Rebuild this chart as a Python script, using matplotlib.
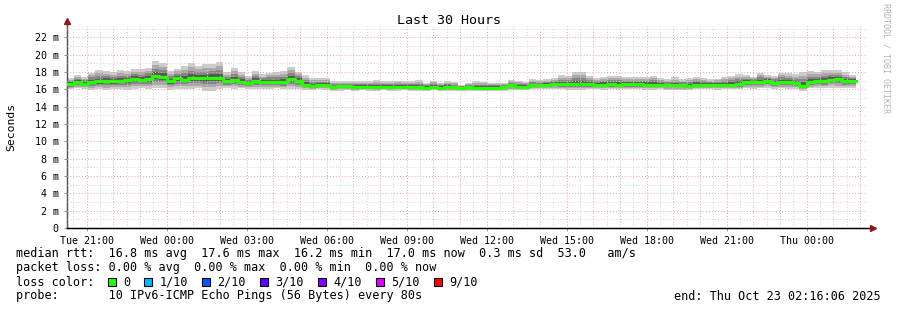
import datetime as dt
import matplotlib
matplotlib.use('Agg')
import matplotlib.pyplot as plt
import matplotlib.dates as mdates
from matplotlib.patches import Rectangle

# --- data (ms), one value per 16 min step ---
start = dt.datetime(2025, 10, 21, 20, 16, 6)
end = dt.datetime(2025, 10, 23, 2, 16, 6)
step_min = 16

median = [16.6, 16.8, 16.65, 16.85, 16.9, 16.95, 16.9, 16.95, 17.05, 17.2, 17.1, 17.2, 17.55, 17.4,
          16.9, 17.25, 17.1, 17.3, 17.25, 17.25, 17.3, 17.3, 16.9, 17.1, 16.85, 16.7, 17.0, 16.8,
          16.85, 16.8, 16.8, 17.15, 17.0, 16.55, 16.4, 16.45, 16.55, 16.25, 16.35, 16.4, 16.27, 16.27,
          16.31, 16.27, 16.27, 16.27, 16.31, 16.27, 16.27, 16.27, 16.2, 16.31, 16.2, 16.27, 16.22,
          16.2, 16.22, 16.2, 16.2, 16.2, 16.2, 16.22, 16.45, 16.3, 16.3, 16.45, 16.45, 16.5, 16.6,
          16.6, 16.6, 16.6, 16.6, 16.6, 16.55, 16.55, 16.6, 16.55, 16.6, 16.6, 16.6, 16.55, 16.55,
          16.55, 16.45, 16.45, 16.45, 16.4, 16.55, 16.55, 16.55, 16.55, 16.55, 16.55, 16.6, 16.85,
          16.85, 16.85, 17.0, 16.75, 16.85, 16.85, 16.75, 16.4, 16.85, 16.95, 16.9, 17.1, 17.15,
          16.9, 17.0]

ping_max = [17.31, 17.65, 17.46, 17.92, 18.19, 18.12, 18.0, 18.19, 18.12, 18.31, 18.31, 18.5, 19.27,
            19.08, 18.12, 18.38, 18.69, 19.0, 18.69, 18.88, 18.88, 19.15, 18.0, 18.46, 18.0, 17.54,
            18.12, 17.73, 17.92, 18.0, 18.12, 18.58, 18.04, 17.62, 17.31, 17.35, 17.27, 16.92, 16.92,
            16.92, 16.96, 16.92, 16.92, 17.08, 16.96, 16.92, 17.0, 16.92, 16.96, 17.08, 16.77, 17.0,
            16.77, 16.96, 16.85,
            16.46, 16.69, 16.92, 16.88, 16.77, 16.77, 16.69, 17.08, 17.0, 16.85, 17.23, 17.08, 17.15,
            17.31, 17.62, 17.54, 18.0, 18.0, 17.54, 17.35, 17.46, 17.54, 17.54, 17.46, 17.46, 17.46,
            17.46, 17.54, 17.31, 17.15, 17.38, 17.15, 17.31, 17.46, 17.31, 17.15, 17.23, 17.38, 17.54,
            17.77, 17.62, 17.46, 17.92, 17.62, 17.54, 17.92, 17.85, 17.73, 18.0, 18.12, 18.0, 18.23,
            18.23, 18.23, 18.0, 17.62]

ping_min = [16.0, 16.1, 16.05, 15.95, 16.0, 15.9, 16.0, 16.05, 15.95, 16.0, 16.1, 16.0, 16.15, 16.15,
            15.95, 16.0, 16.05, 16.0, 16.1, 15.85, 15.85, 16.0, 16.1, 16.05, 16.1, 16.05, 16.0, 16.05,
            16.05, 16.1, 16.0, 16.05, 16.0, 15.95, 15.9, 16.0, 15.95, 15.85, 15.85, 15.9, 15.85, 15.9,
            15.85, 15.85, 15.9, 15.85, 15.85, 15.9, 15.85, 15.85, 15.8, 15.9, 15.8, 15.85, 15.85,
            15.8, 15.85, 15.8, 15.85, 15.8, 15.8, 15.85, 15.95, 15.9, 15.9, 16.0, 16.0, 16.0, 16.05,
            16.0, 15.95, 15.9, 15.95, 16.0, 16.0, 15.95, 16.0, 16.0, 16.0, 16.0, 16.0, 15.95, 15.95,
            16.0, 15.95, 15.95, 15.95, 15.9, 16.0, 16.0, 16.0, 15.95, 16.0, 16.0, 16.0, 16.1, 16.05,
            16.1, 16.15, 16.05, 16.1, 16.05, 16.0, 15.85, 16.1, 16.15, 16.1, 16.2, 16.15, 16.1, 16.1]

loss_labels = ['0', '1/10', '2/10', '3/10', '4/10', '5/10', '9/10']
loss_colors = ['#26ff00', '#00b8ff', '#0059ff', '#5e00ff', '#7e00ff', '#dd00ff', '#ff0000']

# step times (extra point closes the last step)
times = [start + dt.timedelta(minutes=step_min * i) for i in range(len(median) + 1)]
med = median + [median[-1]]
hi = ping_max + [ping_max[-1]]
lo = ping_min + [ping_min[-1]]

W, H = 897, 310
mono = 'DejaVu Sans Mono'
fig = plt.figure(figsize=(W / 100, H / 100), dpi=100)
fx = lambda px: px / W
fy = lambda py: 1 - py / H

ax = fig.add_axes([fx(67), fy(228), fx(800), (228 - 26) / H])
ax.set_xlim(start, end)
ax.set_ylim(0, 23.3)

# smoke: nested bands around the median, darker towards the middle
shades = [(1.0, '#cccccc'), (0.72, '#a9a9a9'), (0.48, '#858585'), (0.26, '#575757')]
for frac, col in shades:
    top = [m + (h - m) * frac for m, h in zip(med, hi)]
    bot = [m - (m - l) * frac for m, l in zip(med, lo)]
    ax.fill_between(times, bot, top, step='post', color=col, lw=0, zorder=2)

ax.step(times, med, where='post', color='#26ff00', lw=2.3, zorder=4)

# grid: gray minor, red major
t = start.replace(minute=0, second=0) + dt.timedelta(minutes=30)
while t < end:
    if t > start:
        col = '#f0a0a0' if t.minute == 0 else '#d4d4d4'
        ax.axvline(t, color=col, lw=0.7, ls=(0, (1, 2)), zorder=3)
    t += dt.timedelta(minutes=30)
for v in range(1, 24):
    col = '#f0a0a0' if v % 2 == 0 else '#d4d4d4'
    ax.axhline(v, color=col, lw=0.7, ls=(0, (1, 2)), zorder=3)

# axes and ticks
for s in ['top', 'right']:
    ax.spines[s].set_visible(False)
ax.spines['left'].set_color('#555555')
ax.spines['bottom'].set_color('black')
ax.plot([0, 0], [0, 1.02], transform=ax.transAxes, color='#555555', lw=1, clip_on=False)
ax.plot([0, 1.006], [0, 0], transform=ax.transAxes, color='black', lw=1, clip_on=False)
ax.plot([0], [1.025], marker='^', ms=4, color='#8b1a1a', transform=ax.transAxes, clip_on=False)
ax.plot([1.008], [0], marker='>', ms=4, color='#8b1a1a', transform=ax.transAxes, clip_on=False)

ax.set_yticks(range(0, 23, 2))
ax.set_yticklabels(['0' if v == 0 else f'{v} m' for v in range(0, 23, 2)])
ax.xaxis.set_major_locator(mdates.HourLocator(byhour=range(0, 24, 3)))
ax.xaxis.set_major_formatter(mdates.DateFormatter('%a %H:%M'))
ax.tick_params(axis='both', length=2, width=0.6, color='#888888', labelsize=7.2, pad=4)
for lab in ax.get_xticklabels() + ax.get_yticklabels():
    lab.set_family(mono)

# titles and labels
fig.text(0.5, fy(20), 'Last 30 Hours', ha='center', va='center', family=mono, size=9.6)
fig.text(fx(11), fy(127), 'Seconds', ha='center', va='center', rotation=90, family=mono, size=8.2)
fig.text(fx(886), fy(58), 'RRDTOOL / TOBI OETIKER', ha='center', va='center', rotation=270,
         family=mono, size=6, color='#b4b4b4')

# legend
fs = 8.5
fig.text(fx(16), fy(254), 'median rtt:  16.8 ms avg  17.6 ms max  16.2 ms min  17.0 ms now'
         '  0.3 ms sd  53.0   am/s', va='center', family=mono, size=fs)
fig.text(fx(16), fy(268), 'packet loss: 0.00 % avg  0.00 % max  0.00 % min  0.00 % now',
         va='center', family=mono, size=fs)
fig.text(fx(16), fy(282), 'loss color:', va='center', family=mono, size=fs)
cw = 7.15
x = 108
for lab, col in zip(loss_labels, loss_colors):
    fig.add_artist(Rectangle((fx(x), fy(286)), fx(8), 8 / H, transform=fig.transFigure,
                             facecolor=col, edgecolor='black', lw=0.8))
    fig.text(fx(x + 15), fy(282), lab, va='center', family=mono, size=fs)
    x += 15 + (len(lab) + 2) * cw
fig.text(fx(16), fy(296), 'probe:       10 IPv6-ICMP Echo Pings (56 Bytes) every 80s',
         va='center', family=mono, size=fs)
fig.text(fx(881), fy(296), 'end: Thu Oct 23 02:16:06 2025', ha='right', va='center',
         family=mono, size=fs)

fig.savefig('out.png', dpi=100)
